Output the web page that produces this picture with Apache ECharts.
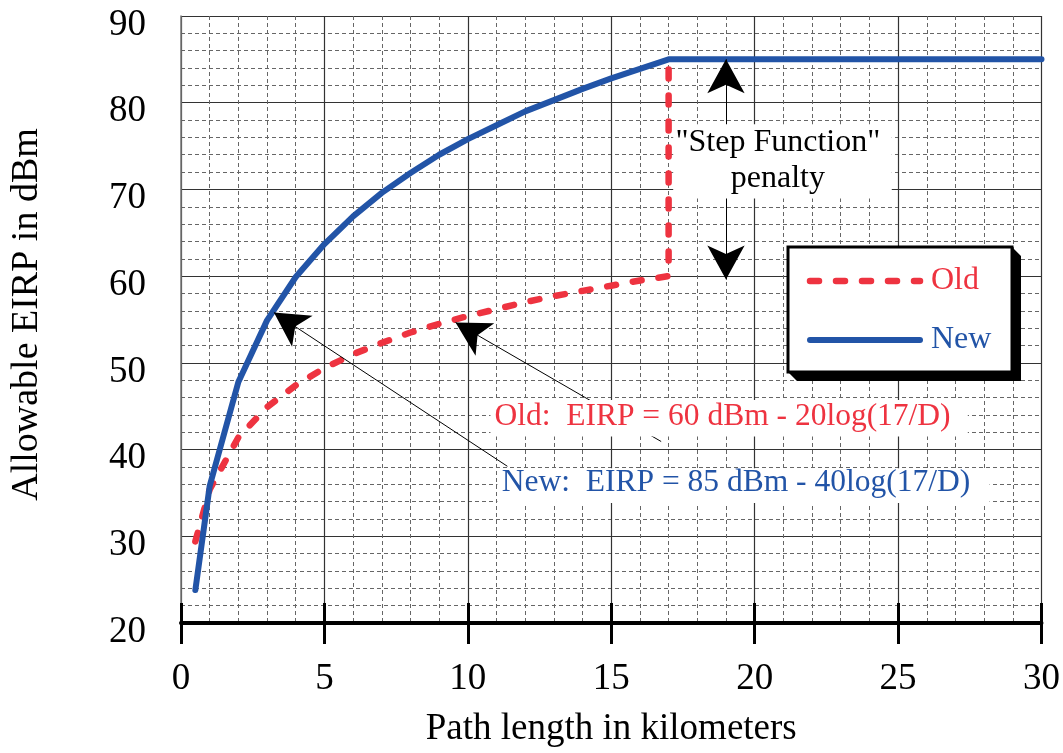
<!DOCTYPE html>
<html><head><meta charset="utf-8">
<script src="https://cdn.jsdelivr.net/npm/echarts@6/dist/echarts.min.js"></script>
<style>html,body{margin:0;padding:0;background:#fff}#c{width:1063px;height:753px}</style>
</head><body><div id="c"></div>
<script>
// ---- data ----
const distanceKm = [0.5, 1, 2, 3, 4, 5, 6, 7, 8, 9, 10, 11, 12, 13, 14, 15, 16, 17];
const oldEirp    = [29.4, 35.4, 41.4, 44.9, 47.4, 49.4, 51.0, 52.3, 53.5, 54.5, 55.4, 56.2, 57.0, 57.7, 58.3, 58.9, 59.5, 60.0];
const newEirp    = [23.8, 35.8, 47.8, 54.9, 59.9, 63.7, 66.9, 69.6, 71.9, 74.0, 75.8, 77.4, 79.0, 80.3, 81.6, 82.8, 83.9, 85.0];
const stepKm = 17;
const capEirp = 85;
const endKm = 30;
const xTickLabels = ['0', '5', '10', '15', '20', '25', '30'];
const yTickLabels = ['20', '30', '40', '50', '60', '70', '80', '90'];
const seriesNames = ['Old', 'New'];
const oldFormula = 'Old:  EIRP = 60 dBm - 20log(17/D)';
const newFormula = 'New:  EIRP = 85 dBm - 40log(17/D)';
const stepText = ['"Step Function"', 'penalty'];

// annotation anchor points (data coordinates)
const stepArrowKm = 19, stepArrowTop = 85, stepArrowBottom = 59.6;
const oldArrow = [[9.57, 54.66], [16.74, 40.93]];
const newArrow = [[3.24, 55.8], [11.38, 38.07]];

const RED = '#EE3340', BLUE = '#2254A7';
const FONT = '"Liberation Serif", "Times New Roman", serif';
const RED_DASH = [9, 17];

const oldData = distanceKm.map((d, i) => [d, oldEirp[i]]).concat([[stepKm, capEirp]]);
const newData = distanceKm.map((d, i) => [d, newEirp[i]]).concat([[endKm, capEirp]]);

const chart = echarts.init(document.getElementById('c'), null, {renderer: 'canvas'});

const arrowSize = [28, 34];
const option = {
  animation: false,
  backgroundColor: '#fff',
  grid: {left: 180, right: 21, top: 16, bottom: 125, containLabel: false},
  xAxis: [{
    type: 'value', min: 0, max: endKm, interval: 5, position: 'bottom',
    name: 'Path length in kilometers', nameLocation: 'middle', nameGap: 88,
    nameTextStyle: {fontFamily: FONT, fontSize: 37, color: '#000'},
    axisLine: {show: true, lineStyle: {color: '#000', width: 4}},
    axisTick: {show: true, inside: false, length: 21, lineStyle: {color: '#000', width: 3}},
    axisLabel: {margin: 38, fontFamily: FONT, fontSize: 37, color: '#000',
      formatter: v => xTickLabels[xTickLabels.indexOf(String(v))] || ''},
    splitLine: {show: true, lineStyle: {color: '#333', width: 1.2}},
    minorTick: {show: false, splitNumber: 5},
    minorSplitLine: {show: true, lineStyle: {color: '#666', width: 1, type: [4, 3]}}
  }, {
    type: 'value', min: 0, max: endKm, interval: 5, position: 'bottom', gridIndex: 0,
    axisLine: {show: false},
    axisTick: {show: true, inside: true, length: 20, lineStyle: {color: '#000', width: 3}},
    axisLabel: {show: false}, splitLine: {show: false}
  }],
  yAxis: {
    type: 'value', min: 20, max: 90, interval: 10,
    name: 'Allowable EIRP in dBm', nameLocation: 'middle', nameGap: 135,
    nameTextStyle: {fontFamily: FONT, fontSize: 38, color: '#000', padding: [0, 0, 0, 10]},
    axisLine: {show: true, lineStyle: {color: '#777', width: 1.5}},
    axisTick: {show: false},
    axisLabel: {margin: 35, fontFamily: FONT, fontSize: 37, color: '#000',
      verticalAlign: 'top', lineHeight: 18,
      formatter: v => yTickLabels[yTickLabels.indexOf(String(v))] || ''},
    splitLine: {show: true, lineStyle: {color: '#333', width: 1.2}},
    minorTick: {show: false, splitNumber: 5},
    minorSplitLine: {show: true, lineStyle: {color: '#666', width: 1, type: [4, 3]}}
  },
  series: [
    {
      name: seriesNames[0], type: 'line', data: oldData, symbol: 'none', z: 3,
      lineStyle: {color: RED, width: 6.5, type: RED_DASH, cap: 'round', join: 'round'},
      itemStyle: {color: RED}
    },
    {
      name: seriesNames[1], type: 'line', data: newData, symbol: 'none', z: 4,
      lineStyle: {color: BLUE, width: 6, type: 'solid', cap: 'round', join: 'round'},
      itemStyle: {color: BLUE}
    },
    {
      name: 'annotations', type: 'line', data: [], z: 5, silent: true,
      markLine: {
        silent: true, animation: false,
        symbol: ['arrow', 'none'], symbolSize: arrowSize,
        label: {show: false},
        lineStyle: {color: '#000', width: 1, type: 'solid'},
        itemStyle: {color: '#000'},
        emphasis: {disabled: true},
        data: [
          [{coord: [stepArrowKm, stepArrowTop], symbol: 'arrow'}, {coord: [stepArrowKm, stepArrowBottom], symbol: 'arrow'}],
          [{coord: oldArrow[0], symbol: 'arrow'}, {coord: oldArrow[1], symbol: 'none'}],
          [{coord: newArrow[0], symbol: 'arrow'}, {coord: newArrow[1], symbol: 'none'}]
        ]
      }
    }
  ]
};
chart.setOption(option);

function px(p) { return chart.convertToPixel({gridIndex: 0}, p); }
function box(x1, y1, x2, y2) {
  const a = px([x1, y1]), b = px([x2, y2]);
  return {type: 'rect', z: 100, silent: true,
    shape: {x: Math.min(a[0], b[0]), y: Math.min(a[1], b[1]), width: Math.abs(b[0] - a[0]), height: Math.abs(b[1] - a[1])},
    style: {fill: '#fff'}};
}
function label(x, y, text, color, size) {
  const p = px([x, y]);
  return {type: 'text', z: 101, silent: true, x: p[0], y: p[1],
    style: {text: text, fill: color, font: size + 'px ' + FONT, textAlign: 'center', textVerticalAlign: 'middle'}};
}

// legend box (pixel layout)
const L = {x: 788, y: 247, w: 224, h: 125, depth: 9};
const legendGraphics = [
  {type: 'polygon', z: 110, silent: true,
    shape: {points: [[L.x + L.w, L.y], [L.x + L.w + L.depth, L.y + L.depth], [L.x + L.w + L.depth, L.y + L.h + L.depth],
      [L.x + L.depth, L.y + L.h + L.depth], [L.x, L.y + L.h], [L.x + L.w, L.y + L.h]]},
    style: {fill: '#000'}},
  {type: 'rect', z: 111, silent: true, shape: {x: L.x, y: L.y, width: L.w, height: L.h},
    style: {fill: '#fff', stroke: '#000', lineWidth: 3}},
  {type: 'line', z: 112, silent: true, shape: {x1: 810, y1: 281, x2: 920, y2: 281},
    style: {stroke: RED, lineWidth: 6.5, lineCap: 'round', lineDash: RED_DASH}},
  {type: 'text', z: 112, silent: true, x: 931, y: 281,
    style: {text: seriesNames[0], fill: RED, font: '32px ' + FONT, textAlign: 'left', textVerticalAlign: 'middle'}},
  {type: 'line', z: 112, silent: true, shape: {x1: 810, y1: 340, x2: 920, y2: 340},
    style: {stroke: BLUE, lineWidth: 6, lineCap: 'round'}},
  {type: 'text', z: 112, silent: true, x: 931, y: 340,
    style: {text: seriesNames[1], fill: BLUE, font: '32px ' + FONT, textAlign: 'left', textVerticalAlign: 'middle'}}
];

chart.setOption({
  graphic: [
    box(17.16, 77.53, 24.78, 68.95),
    label(20.81, 75.36, stepText[0], '#000', 32),
    label(20.81, 71.24, stepText[1], '#000', 32),
    box(10.79, 45.73, 27.43, 41.5),
    label(18.88, 43.79, oldFormula, RED, 31.5),
    box(11.03, 37.84, 28.19, 33.84),
    label(19.35, 36.13, newFormula, BLUE, 31.5)
  ].concat(legendGraphics)
});
</script></body></html>
